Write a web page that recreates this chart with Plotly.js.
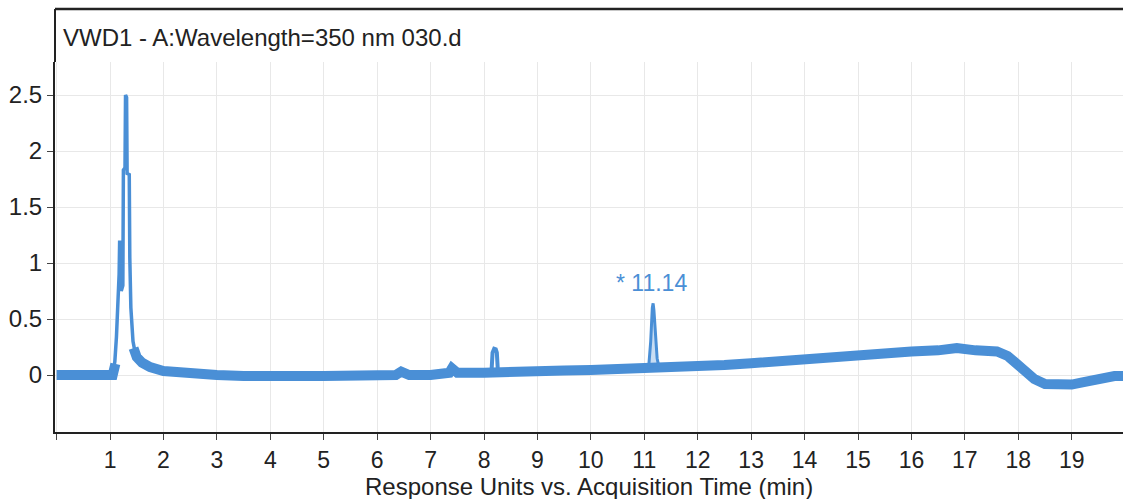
<!DOCTYPE html>
<html>
<head>
<meta charset="utf-8">
<script src="https://cdn.plot.ly/plotly-3.0.1.min.js"></script>
<style>html,body{margin:0;padding:0;background:#fff;}#chart{width:1123px;height:499px;}</style>
</head>
<body>
<div id="chart"></div>
<script>
// Baseline (centre of the noisy signal band), minutes vs response units; null = gap under the main peak
const baseT = [0, 0.3, 0.6, 1.0, 1.05, 1.1, 1.25, 1.44, 1.5, 1.6, 1.75, 2.0, 2.5, 3.0, 3.5, 4.0, 4.5, 5.0, 5.5, 6.0, 6.35, 6.45, 6.6, 7.0, 7.35, 7.4, 7.5, 8.0, 8.5, 9.0, 9.5, 10.0, 10.5, 11.0, 11.3, 11.6, 12.0, 12.5, 13.0, 13.5, 14.0, 14.5, 15.0, 15.5, 16.0, 16.5, 16.85, 17.2, 17.6, 17.8, 18.0, 18.15, 18.3, 18.5, 18.8, 19.0, 19.2, 19.4, 19.6, 19.8, 20.0];
const baseV = [0.0, 0.0, -0.01, -0.01, 0.0, 0.1, null, 0.24, 0.16, 0.11, 0.07, 0.035, 0.01, 0.0, -0.01, -0.02, -0.01, -0.01, -0.01, -0.01, 0.0, 0.03, 0.0, 0.0, 0.02, 0.06, 0.02, 0.02, 0.02, 0.03, 0.04, 0.045, 0.05, 0.06, 0.07, 0.07, 0.08, 0.09, 0.105, 0.125, 0.15, 0.17, 0.18, 0.195, 0.21, 0.22, 0.24, 0.22, 0.21, 0.17, 0.08, 0.02, -0.035, -0.08, -0.085, -0.085, -0.065, -0.04, -0.015, -0.01, -0.01];

// Main peak (~1.3 min)
const peak1T = [1.05, 1.09, 1.12, 1.15, 1.17, 1.18, 1.19, 1.21, 1.24, 1.25, 1.28, 1.29, 1.31, 1.32, 1.36, 1.37, 1.39, 1.43, 1.47];
const peak1V = [0.0, 0.12, 0.34, 0.6, 0.9, 1.2, 1.15, 0.75, 0.8, 1.83, 1.85, 2.5, 2.48, 1.8, 1.79, 1.05, 0.6, 0.3, 0.2];

// Small peak (~8.2 min)
const peak2T = [8.14, 8.16, 8.19, 8.22, 8.24, 8.26];
const peak2V = [0.03, 0.2, 0.235, 0.23, 0.2, 0.03];

// Integrated peak (11.14 min)
const peak3T = [11.08, 11.12, 11.15, 11.165, 11.18, 11.21, 11.24, 11.27];
const peak3V = [0.06, 0.3, 0.6, 0.64, 0.58, 0.35, 0.15, 0.08];

const xTickVals = [0, 1, 2, 3, 4, 5, 6, 7, 8, 9, 10, 11, 12, 13, 14, 15, 16, 17, 18, 19];
const xTickText = ['', '1', '2', '3', '4', '5', '6', '7', '8', '9', '10', '11', '12', '13', '14', '15', '16', '17', '18', '19'];
const yTickVals = [0, 0.5, 1, 1.5, 2, 2.5];
const yTickText = ['0', '0.5', '1', '1.5', '2', '2.5'];

const chartTitle = 'VWD1 - A:Wavelength=350 nm 030.d';
const xTitle = 'Response Units vs. Acquisition Time (min)';
const peakLabel = '* 11.14';
const peakLabelT = 11.14;
const peakLabelV = 0.82;

const BLUE = '#4a8fd6';
const FONT = 'Liberation Sans, Arial, sans-serif';

const traces = [
  {x: baseT, y: baseV, mode: 'lines', connectgaps: false, line: {color: BLUE, width: 10}, hoverinfo: 'skip', showlegend: false},
  {x: peak3T, y: peak3V, mode: 'lines', fill: 'toself', fillcolor: 'rgba(74,143,214,0.3)', line: {color: BLUE, width: 0}, hoverinfo: 'skip', showlegend: false},
  {x: peak1T, y: peak1V, mode: 'lines', line: {color: BLUE, width: 3.5}, hoverinfo: 'skip', showlegend: false},
  {x: peak2T, y: peak2V, mode: 'lines', line: {color: BLUE, width: 4}, hoverinfo: 'skip', showlegend: false},
  {x: peak3T, y: peak3V, mode: 'lines', line: {color: BLUE, width: 3}, hoverinfo: 'skip', showlegend: false}
];

const topY = (432 - 9) / 370;

const layout = {
  width: 1123, height: 499,
  margin: {l: 55, r: 0, t: 62, b: 67, pad: 0},
  paper_bgcolor: '#fff', plot_bgcolor: '#fff',
  font: {family: FONT, color: '#222'},
  showlegend: false,
  xaxis: {
    range: [-0.03, 19.96], tickmode: 'array', tickvals: xTickVals, ticktext: xTickText,
    showline: true, linecolor: '#222', linewidth: 2,
    ticks: 'outside', ticklen: 6, tickwidth: 1, tickcolor: '#444',
    showgrid: true, gridcolor: '#e8e8e8', gridwidth: 1, zeroline: false,
    tickfont: {size: 23, color: '#222', family: FONT}
  },
  yaxis: {
    range: [-0.509, 2.795], tickmode: 'array', tickvals: yTickVals, ticktext: yTickText,
    showline: true, linecolor: '#222', linewidth: 2,
    ticks: 'outside', ticklen: 6, tickwidth: 1, tickcolor: '#444',
    showgrid: true, gridcolor: '#e8e8e8', gridwidth: 1, zeroline: false,
    tickfont: {size: 24, color: '#222', family: FONT}
  },
  shapes: [
    {type: 'line', xref: 'paper', yref: 'paper', x0: 0, x1: 1.02, y0: topY, y1: topY, line: {color: '#222', width: 2.5}},
    {type: 'line', xref: 'paper', yref: 'paper', x0: 0, x1: 0, y0: 1, y1: topY, line: {color: '#222', width: 2}}
  ],
  annotations: [
    {text: chartTitle, xref: 'paper', yref: 'paper', x: 6 / 1068, y: (432 - 37) / 370, xanchor: 'left', yanchor: 'middle', showarrow: false, font: {size: 24, color: '#222', family: FONT}},
    {text: xTitle, xref: 'paper', yref: 'paper', x: 0.5, y: (432 - 486) / 370, xanchor: 'center', yanchor: 'middle', showarrow: false, font: {size: 24, color: '#222', family: FONT}},
    {text: peakLabel, xref: 'x', yref: 'y', x: peakLabelT, y: peakLabelV, xanchor: 'center', yanchor: 'middle', showarrow: false, font: {size: 23, color: BLUE, family: FONT}}
  ]
};

Plotly.newPlot('chart', traces, layout, {displayModeBar: false, staticPlot: true});
</script>
</body>
</html>
